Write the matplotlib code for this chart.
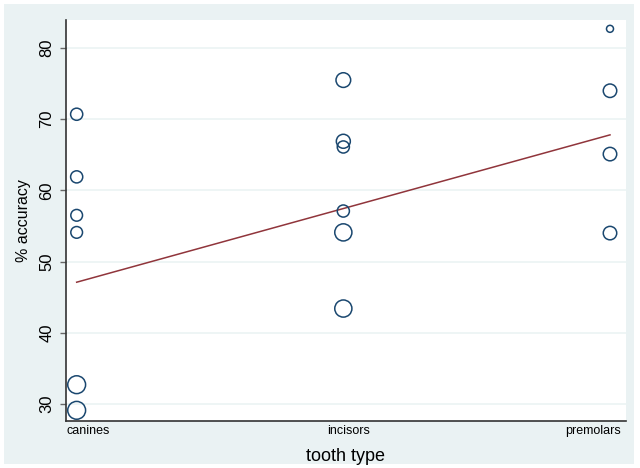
import numpy as np
import matplotlib
matplotlib.use("Agg")
import matplotlib.pyplot as plt
import matplotlib.transforms as mtransforms
from matplotlib.patches import Rectangle

plt.rcParams["font.family"] = ["Liberation Sans", "DejaVu Sans"]

# Data
categories = ["canines", "incisors", "premolars"]
canines_acc = [70.7, 61.9, 56.5, 54.1, 32.7, 29.1]
canines_w = [3.0, 3.0, 2.8, 2.8, 6.5, 6.5]
incisors_acc = [75.5, 66.9, 66.1, 57.1, 54.1, 43.4]
incisors_w = [4.4, 4.0, 3.0, 3.0, 6.0, 6.0]
premolars_acc = [82.7, 74.0, 65.1, 54.0]
premolars_w = [1.0, 3.7, 3.7, 3.7]
fit_x = [0, 2]
fit_y = [47.1, 67.8]
yticks = [30, 40, 50, 60, 70, 80]

bg = "#EAF2F3"
navy = "#1A476F"
maroon = "#90353B"

fig = plt.figure(figsize=(6.4, 4.68), dpi=100, facecolor="white")
fig.add_artist(Rectangle((4 / 640, 4 / 468), 630 / 640, 460 / 468,
                         transform=fig.transFigure, facecolor=bg,
                         edgecolor="none", zorder=-5))
ax = fig.add_axes([66 / 640, 1 - 421 / 468, 560 / 640, 401 / 468])
ax.set_zorder(1)
ax.set_facecolor("white")

# marker area scales with weight (base diameter 7 px)
scale = (7 * 0.72) ** 2
accs = [canines_acc, incisors_acc, premolars_acc]
ws = [canines_w, incisors_w, premolars_w]
for i, (a, w) in enumerate(zip(accs, ws)):
    ax.scatter(np.full(len(a), i), a, s=np.array(w) * scale,
               facecolors="none", edgecolors=navy, linewidths=1.1, zorder=3)

ax.plot(fit_x, fit_y, color=maroon, lw=1.1, zorder=2)

ax.set_xlim(-0.04, 2.06)
ax.set_ylim(27.6, 83.94)
ax.set_yticks(yticks)
ax.set_yticklabels([str(t) for t in yticks], rotation=90, va="center",
                   fontsize=12)
ax.grid(axis="y", color=bg, lw=1.1, zorder=0)
ax.set_axisbelow(True)

ax.set_xticks(range(len(categories)))
ax.set_xticklabels(categories, fontsize=9)
ax.tick_params(axis="x", length=0, pad=3)
ax.tick_params(axis="y", length=4.5, color="#666666", width=1, pad=4)
labels = ax.get_xticklabels()
labels[0].set_ha("left")
labels[0].set_transform(labels[0].get_transform() +
                        mtransforms.ScaledTranslation(-10 / 100, 0, fig.dpi_scale_trans))
labels[1].set_transform(labels[1].get_transform() +
                        mtransforms.ScaledTranslation(5 / 100, 0, fig.dpi_scale_trans))
labels[2].set_ha("right")
labels[2].set_transform(labels[2].get_transform() +
                        mtransforms.ScaledTranslation(11 / 100, 0, fig.dpi_scale_trans))

ax.set_xlabel("tooth type", fontsize=13, labelpad=8)
ax.set_ylabel("% accuracy", fontsize=11.5, labelpad=6)

for side in ["top", "right"]:
    ax.spines[side].set_visible(False)
ax.spines["left"].set_color("#333333")
ax.spines["bottom"].set_color("#333333")
ax.spines["left"].set_linewidth(1.2)
ax.spines["bottom"].set_linewidth(1.2)

fig.savefig("out.png", dpi=100, facecolor=fig.get_facecolor())
